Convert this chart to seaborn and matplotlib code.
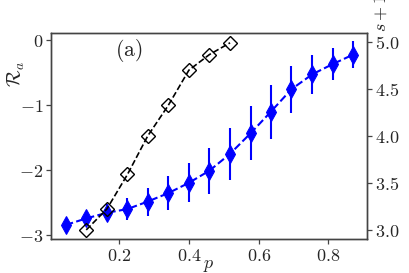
import matplotlib
matplotlib.use("Agg")
import matplotlib.pyplot as plt
from matplotlib.ticker import FuncFormatter, FixedLocator
import seaborn as sns
import pandas as pd

# ---- data ----
black_p = [0.106, 0.165, 0.224, 0.282, 0.341, 0.400, 0.459, 0.518]
black_R = [-2.92, -2.60, -2.07, -1.48, -1.01, -0.47, -0.23, -0.05]

blue_p = [0.047, 0.106, 0.165, 0.224, 0.282, 0.341, 0.400, 0.459,
          0.518, 0.577, 0.635, 0.694, 0.754, 0.813, 0.871]
blue_s = [3.05, 3.12, 3.18, 3.22, 3.30, 3.39, 3.50, 3.63,
          3.81, 4.03, 4.26, 4.50, 4.66, 4.77, 4.87]
blue_err = [0.03, 0.05, 0.09, 0.12, 0.15, 0.18, 0.21, 0.245,
            0.275, 0.29, 0.29, 0.25, 0.21, 0.17, 0.14]

x_ticks = [0.2, 0.4, 0.6, 0.8]
left_ticks = [0, -1, -2, -3]
right_ticks = [3.0, 3.5, 4.0, 4.5, 5.0]

sns.set_style("ticks")
plt.rcParams['mathtext.fontset'] = 'cm'
plt.rcParams['font.family'] = ['DejaVu Serif']

fig = plt.figure(figsize=(4.09, 2.73), dpi=100)
ax = fig.add_axes([0.1247, 0.1245, 0.7723, 0.7545])
ax2 = ax.twinx()

df_b = pd.DataFrame({'p': black_p, 'R': black_R})
df_s = pd.DataFrame({'p': blue_p, 's': blue_s, 'err': blue_err})

# blue series on right axis
ax2.errorbar(df_s['p'], df_s['s'], yerr=df_s['err'], fmt='none',
             ecolor='#0000ff', elinewidth=1.5, capsize=0, zorder=2)
sns.lineplot(data=df_s, x='p', y='s', ax=ax2, color='#0000ff',
             linestyle='--', linewidth=1.5, marker='d', markersize=9,
             markeredgecolor='#0000ff', markerfacecolor='#0000ff')

# black series on left axis (drawn on top)
sns.lineplot(data=df_b, x='p', y='R', ax=ax, color='black',
             linestyle='--', linewidth=1.2, marker='D', markersize=6.8,
             markeredgecolor='black', markerfacecolor='none',
             markeredgewidth=1.0)
ax.set_zorder(ax2.get_zorder() + 1)
ax.patch.set_visible(False)

ax.set_xlim(0.005, 0.91)
ax.set_ylim(-3.06, 0.1)
ax2.set_ylim(2.9, 5.1)

fmt = FuncFormatter(lambda v, _: r'$%s$' % ('%g' % v))
fmt1 = FuncFormatter(lambda v, _: r'$%.1f$' % v)
ax.xaxis.set_major_locator(FixedLocator(x_ticks))
ax.yaxis.set_major_locator(FixedLocator(left_ticks))
ax2.yaxis.set_major_locator(FixedLocator(right_ticks))
ax.xaxis.set_major_formatter(fmt)
ax.yaxis.set_major_formatter(fmt)
ax2.yaxis.set_major_formatter(fmt1)

for a in (ax, ax2):
    a.tick_params(labelsize=13, length=3.5, width=0.9, color='#444444',
                  pad=2)
    for sp in a.spines.values():
        sp.set_visible(True)
        sp.set_color('#444444')
        sp.set_linewidth(1.0)

ax.set_xlabel(r'$p$', fontsize=13, labelpad=-6.5)
ax.set_ylabel(r'$\mathcal{R}_a$', fontsize=14)
ax.yaxis.set_label_coords(-0.075, 0.8)
ax2.set_ylabel(r'$s+1$', fontsize=13)
ax2.yaxis.set_label_coords(1.016, 1.1)

ax.text(0.247, 0.913, r'$\mathrm{(a)}$', transform=ax.transAxes,
        fontsize=15.5, ha='center', va='center')

fig.savefig('out.png', dpi=100)
